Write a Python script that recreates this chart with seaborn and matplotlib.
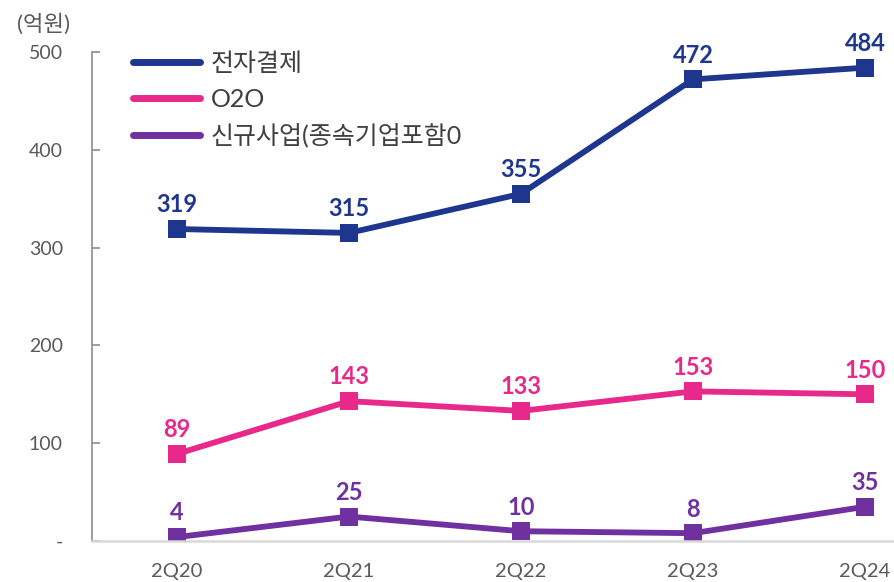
import pandas as pd
import seaborn as sns
import matplotlib
matplotlib.use("Agg")
import matplotlib.pyplot as plt
from matplotlib.lines import Line2D

quarters = ["2Q20", "2Q21", "2Q22", "2Q23", "2Q24"]
payment = [319, 315, 355, 472, 484]
o2o = [89, 143, 133, 153, 150]
new_biz = [4, 25, 10, 8, 35]
series_names = ["전자결제", "O2O", "신규사업(종속기업포함0"]
series_colors = ["#1f368f", "#e8288a", "#7030a0"]
y_ticks = [0, 100, 200, 300, 400, 500]
y_tick_labels = ["-", "100", "200", "300", "400", "500"]


def main() -> None:
    sns.set_style("white")
    plt.rcParams["font.family"] = ["Lato", "Noto Sans CJK KR", "DejaVu Sans"]

    df = pd.DataFrame({
        "quarter": quarters * 3,
        "value": payment + o2o + new_biz,
        "series": [series_names[0]] * 5 + [series_names[1]] * 5 + [series_names[2]] * 5,
    })
    palette = dict(zip(series_names, series_colors))

    fig = plt.figure(figsize=(8.95, 5.82), dpi=100)
    ax = fig.add_axes([92 / 895, 41 / 582, 1 - 92 / 895, 489 / 582])

    sns.lineplot(
        data=df, x="quarter", y="value", hue="series", palette=palette,
        marker="s", markersize=13, markeredgewidth=0, linewidth=4.2,
        ax=ax, legend=False,
    )

    # value labels above markers
    for name, vals in zip(series_names, [payment, o2o, new_biz]):
        for i, v in enumerate(vals):
            ax.annotate(
                str(v), (i, v), xytext=(0, 12), textcoords="offset points",
                ha="center", va="baseline", fontsize=17, fontweight="bold",
                color=palette[name],
            )

    ax.set_ylim(0, 500)
    ax.set_xlim(-0.494, 4.174)
    ax.set_yticks(y_ticks)
    ax.set_yticklabels(y_tick_labels)
    ax.tick_params(axis="y", direction="in", length=6, width=1.2, color="#8c8c8c",
                   labelsize=14, labelcolor="#595959", pad=21, left=True)
    ax.tick_params(axis="x", length=0, labelsize=14.5, labelcolor="#595959", pad=16)
    ax.set_xlabel("")
    ax.set_ylabel("")

    for side in ["top", "right"]:
        ax.spines[side].set_visible(False)
    ax.spines["left"].set_color("#8c8c8c")
    ax.spines["left"].set_linewidth(1.2)
    ax.spines["bottom"].set_color("#d9d9d9")
    ax.spines["bottom"].set_linewidth(1.8)

    fig.text(17 / 895, 1 - 24 / 582, "(억원)", fontsize=16, color="#595959",
             va="center", ha="left")

    handles = [Line2D([0], [0], color=c, linewidth=5) for c in series_colors]
    leg = ax.legend(
        handles, series_names, loc="upper left", bbox_to_anchor=(0.023, 1.046),
        frameon=False, fontsize=18, handlelength=2.7, handletextpad=0.41,
        labelspacing=0.5,
    )
    for t in leg.get_texts():
        t.set_color("#404040")

    fig.savefig("out.png", dpi=100)


if __name__ == "__main__":
    main()
